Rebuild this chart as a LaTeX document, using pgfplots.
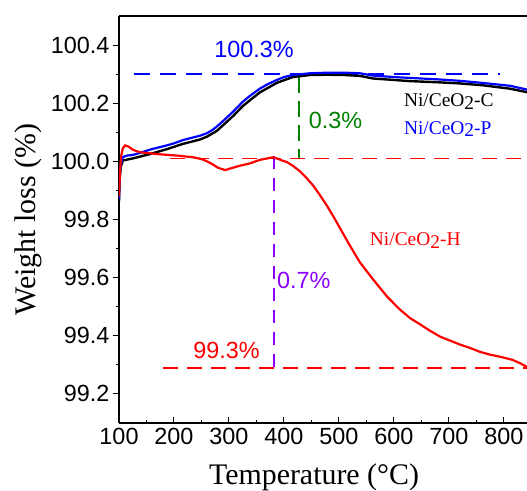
\documentclass[border=0pt]{standalone}
\usepackage{fontspec}
\setmainfont{Liberation Sans}
\newfontfamily\serif{Liberation Serif}
\usepackage{pgfplots}
\pgfplotsset{compat=1.18}

\definecolor{dkgreen}{RGB}{0,128,0}
\definecolor{violet}{RGB}{140,0,255}
\newcommand{\ticksize}{\fontsize{23.5}{27}\selectfont}
\newcommand{\labsize}{\fontsize{30}{34}\selectfont}
\newcommand{\cn}[1]{{\serif\fontsize{19.5}{22}\selectfont Ni/CeO\raisebox{-0.3ex}{2}-#1}}

\begin{document}
\begin{tikzpicture}
\begin{axis}[
  name=ax,
  scale only axis, width=408bp, height=407bp,
  xmin=100, xmax=842, ymin=99.1, ymax=100.5,
  axis x line*=box, axis y line*=left,
  axis line style={-, line width=1.2pt},
  xtick={100,200,...,800}, ytick={99.2,99.4,...,100.4},
  minor x tick num=1, minor y tick num=1,
  xtick pos=bottom, ytick pos=left,
  xtick align=inside, ytick align=outside,
  major tick length=6bp, minor tick length=3bp,
  tick style={line width=1pt, black},
  /pgf/number format/assume math mode=true,
  tick label style={font=\ticksize},
  yticklabel style={/pgf/number format/.cd, fixed, fixed zerofill, precision=1},
  xticklabel style={yshift=-2bp},
  xlabel={\serif\labsize Temperature (°C)},
  ylabel={\serif\labsize Weight loss (\%)},
  every axis x label/.style={at={(rel axis cs:0.478,0)}, anchor=base, yshift=-61bp},
  every axis y label/.style={at={(rel axis cs:0,0.5)}, anchor=center, rotate=90, yshift=91bp},
  clip=true,
]
% dashed guide lines
\addplot[blue, line width=1.6pt, dash pattern=on 16bp off 10bp] coordinates {(127,100.3) (793,100.3)};
\addplot[red, line width=1.6pt, dash pattern=on 15bp off 9bp] coordinates {(193,100.01) (842,100.01)};
\addplot[red, line width=1.6pt, dash pattern=on 15bp off 9bp] coordinates {(180,99.29) (842,99.29)};
\addplot[dkgreen, line width=1.6pt, dash pattern=on 16bp off 8bp] coordinates {(427,100.29) (427,100.01)};
\addplot[violet, line width=1.6pt, dash pattern=on 13bp off 9bp] coordinates {(382,100.02) (382,99.29)};

% Ni/CeO2-C
\addplot[black, line width=2.4pt] coordinates {
(100,99.86) (101,99.93) (103,99.98) (107,100.003) (125,100.01) (156,100.025)
(187,100.042) (216,100.06) (247,100.075) (260,100.085) (278,100.105) (307,100.155)
(325,100.19) (338,100.21) (356,100.237) (387,100.27) (416,100.29) (447,100.297)
(480,100.298) (510,100.297) (538,100.294) (562,100.285) (600,100.28) (629,100.276)
(680,100.272) (720,100.268) (760,100.262) (811,100.25) (842,100.238)};

% Ni/CeO2-P
\addplot[blue, line width=2.2pt] coordinates {
(100,99.87) (101,99.94) (103,99.99) (107,100.015) (115,100.02) (125,100.022)
(140,100.03) (156,100.04) (170,100.047) (187,100.055) (200,100.062) (216,100.073)
(230,100.08) (247,100.088) (260,100.097) (270,100.108) (278,100.12) (290,100.14)
(307,100.17) (325,100.205) (338,100.225) (356,100.25) (370,100.265) (387,100.28)
(400,100.29) (416,100.297) (447,100.303) (480,100.305) (510,100.305) (538,100.303)
(562,100.295) (600,100.29) (629,100.287) (680,100.282) (720,100.277) (760,100.27)
(811,100.26) (842,100.247)};

% Ni/CeO2-H
\addplot[red, line width=2.2pt] coordinates {
(100,99.88) (102,99.97) (104,100.02) (107,100.045) (111,100.055) (118,100.05)
(125,100.04) (135,100.033) (144,100.03) (169,100.025) (205,100.02) (235,100.014)
(250,100.008) (260,100.0) (270,99.99) (280,99.978) (293,99.97) (307,99.978)
(320,99.985) (338,99.993) (356,100.005) (369,100.01) (380,100.014) (390,100.008)
(398,100.002) (405,99.998) (416,99.985) (429,99.966) (440,99.945) (453,99.917)
(465,99.885) (478,99.848) (490,99.81) (502,99.77) (520,99.71) (538,99.653)
(562,99.594) (587,99.536) (611,99.49) (630,99.46) (647,99.44) (665,99.418)
(684,99.397) (700,99.385) (720,99.37) (740,99.357) (756,99.345) (775,99.335)
(793,99.328) (816,99.317) (830,99.305) (842,99.293)};

% annotations
\node[anchor=base west, inner sep=0pt, blue, font=\ticksize] at (axis cs:273,100.357) {100.3\%};
\node[anchor=base west, inner sep=0pt, dkgreen, font=\ticksize] at (axis cs:445,100.114) {0.3\%};
\node[anchor=base west, inner sep=0pt, violet, font=\ticksize] at (axis cs:387,99.563) {0.7\%};
\node[anchor=base west, inner sep=0pt, red, font=\ticksize] at (axis cs:235,99.321) {99.3\%};
\node[anchor=base west, inner sep=0pt, black] at (axis cs:618,100.187) {\cn{C}};
\node[anchor=base west, inner sep=0pt, blue] at (axis cs:618,100.094) {\cn{P}};
\node[anchor=base west, inner sep=0pt, red] at (axis cs:556,99.709) {\cn{H}};
\end{axis}
\pgfresetboundingbox
\path[use as bounding box] ([xshift=-119bp,yshift=-68bp]ax.south west) rectangle ([yshift=16bp]ax.north east);
\end{tikzpicture}
\end{document}
